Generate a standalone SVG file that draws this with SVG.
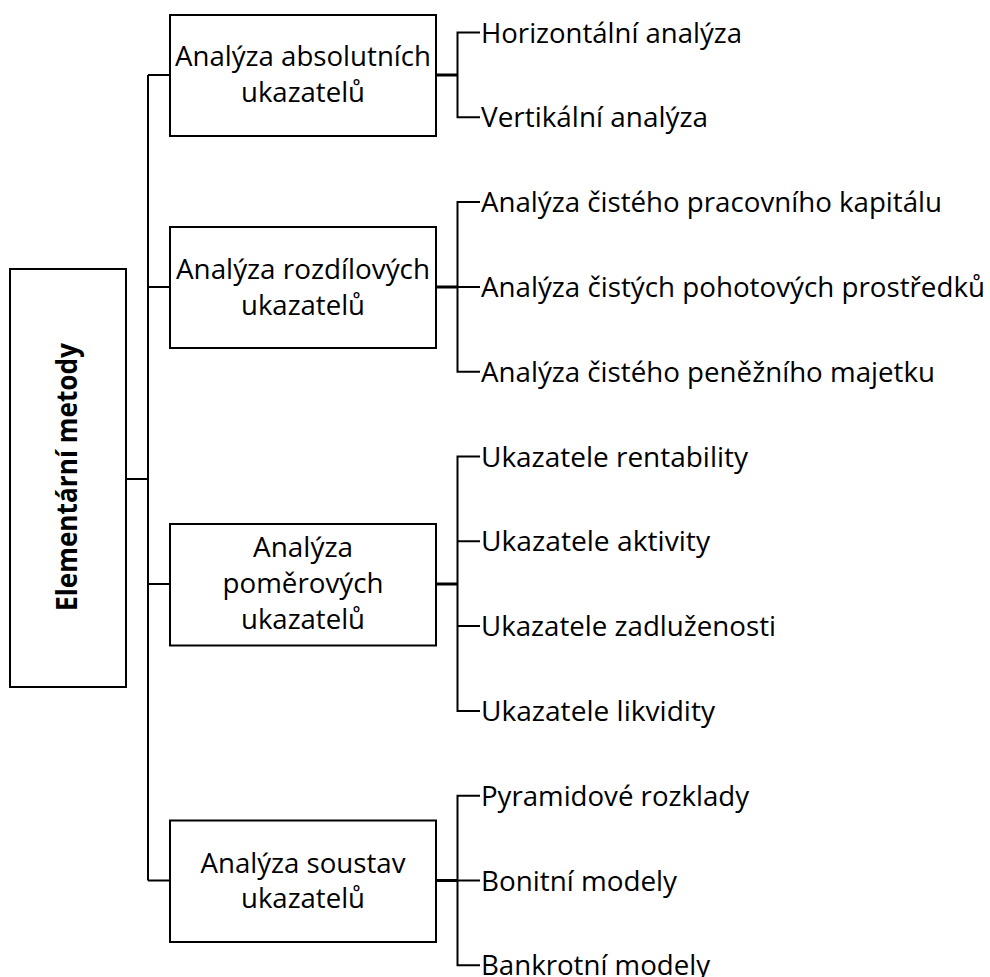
<svg xmlns="http://www.w3.org/2000/svg" width="990" height="977" viewBox="0 0 990 977">
<style>
text{font-family:"Open Sans","Noto Sans","Liberation Sans",sans-serif;font-size:28px;fill:#000}
.box{fill:#fff;stroke:#000;stroke-width:2}
.c{text-anchor:middle}
.b{font-weight:bold}
.ln{fill:none;stroke:#000;stroke-width:2}
.lt{fill:none;stroke:#000;stroke-width:3}
</style>
<rect width="990" height="977" fill="#fff"/>
<g id="connectors">
<path class="ln" d="M126,479H148M148,75V880.5M148,75H170M148,287H170M148,584H170M148,880.5H170"/>
<path class="lt" d="M436,75H457.5M436,287H457.5M436,584H457.5M436,880.5H457.5"/>
<path class="ln" d="M480,32.5H457.5V117.3H480"/>
<path class="ln" d="M480,202.1H457.5V371.7H480M457.5,286.9H480"/>
<path class="ln" d="M480,456.5H457.5V710.9H480M457.5,541.3H480M457.5,626.1H480"/>
<path class="ln" d="M480,795.7H457.5V965.3H480M457.5,880.5H480"/>
</g>
<g id="root">
<rect class="box" x="10" y="269" width="116" height="418"/>
<text class="c b" transform="translate(77,477) rotate(-90)" textLength="268" lengthAdjust="spacingAndGlyphs">Elementární metody</text>
</g>
<g id="n1">
<rect class="box" x="170" y="15" width="266" height="121"/>
<text class="c" x="303" y="66" textLength="256" lengthAdjust="spacingAndGlyphs">Analýza absolutních</text>
<text class="c" x="303" y="102" textLength="124" lengthAdjust="spacingAndGlyphs">ukazatelů</text>
</g>
<g id="n2">
<rect class="box" x="170" y="227" width="266" height="121"/>
<text class="c" x="303" y="278.5" textLength="254" lengthAdjust="spacingAndGlyphs">Analýza rozdílových</text>
<text class="c" x="303" y="314.5" textLength="124" lengthAdjust="spacingAndGlyphs">ukazatelů</text>
</g>
<g id="n3">
<rect class="box" x="170" y="524" width="266" height="121.5"/>
<text class="c" x="303" y="557" textLength="100" lengthAdjust="spacingAndGlyphs">Analýza</text>
<text class="c" x="303" y="593" textLength="161" lengthAdjust="spacingAndGlyphs">poměrových</text>
<text class="c" x="303" y="629" textLength="124" lengthAdjust="spacingAndGlyphs">ukazatelů</text>
</g>
<g id="n4">
<rect class="box" x="170" y="820.5" width="266" height="121.5"/>
<text class="c" x="303" y="872.5" textLength="205" lengthAdjust="spacingAndGlyphs">Analýza soustav</text>
<text class="c" x="303" y="908" textLength="124" lengthAdjust="spacingAndGlyphs">ukazatelů</text>
</g>
<g id="leaf1"><text x="481" y="42.5" textLength="261" lengthAdjust="spacingAndGlyphs">Horizontální analýza</text></g>
<g id="leaf2"><text x="481" y="127.3" textLength="227" lengthAdjust="spacingAndGlyphs">Vertikální analýza</text></g>
<g id="leaf3"><text x="481" y="212.1" textLength="461" lengthAdjust="spacingAndGlyphs">Analýza čistého pracovního kapitálu</text></g>
<g id="leaf4"><text x="481" y="296.9" textLength="504" lengthAdjust="spacingAndGlyphs">Analýza čistých pohotových prostředků</text></g>
<g id="leaf5"><text x="481" y="381.7" textLength="454" lengthAdjust="spacingAndGlyphs">Analýza čistého peněžního majetku</text></g>
<g id="leaf6"><text x="481" y="466.5" textLength="267" lengthAdjust="spacingAndGlyphs">Ukazatele rentability</text></g>
<g id="leaf7"><text x="481" y="551.3" textLength="229" lengthAdjust="spacingAndGlyphs">Ukazatele aktivity</text></g>
<g id="leaf8"><text x="481" y="636.1" textLength="295" lengthAdjust="spacingAndGlyphs">Ukazatele zadluženosti</text></g>
<g id="leaf9"><text x="481" y="720.9" textLength="234" lengthAdjust="spacingAndGlyphs">Ukazatele likvidity</text></g>
<g id="leaf10"><text x="481" y="805.7" textLength="268" lengthAdjust="spacingAndGlyphs">Pyramidové rozklady</text></g>
<g id="leaf11"><text x="481" y="890.5" textLength="196" lengthAdjust="spacingAndGlyphs">Bonitní modely</text></g>
<g id="leaf12"><text x="481" y="975" textLength="229" lengthAdjust="spacingAndGlyphs">Bankrotní modely</text></g>
</svg>
